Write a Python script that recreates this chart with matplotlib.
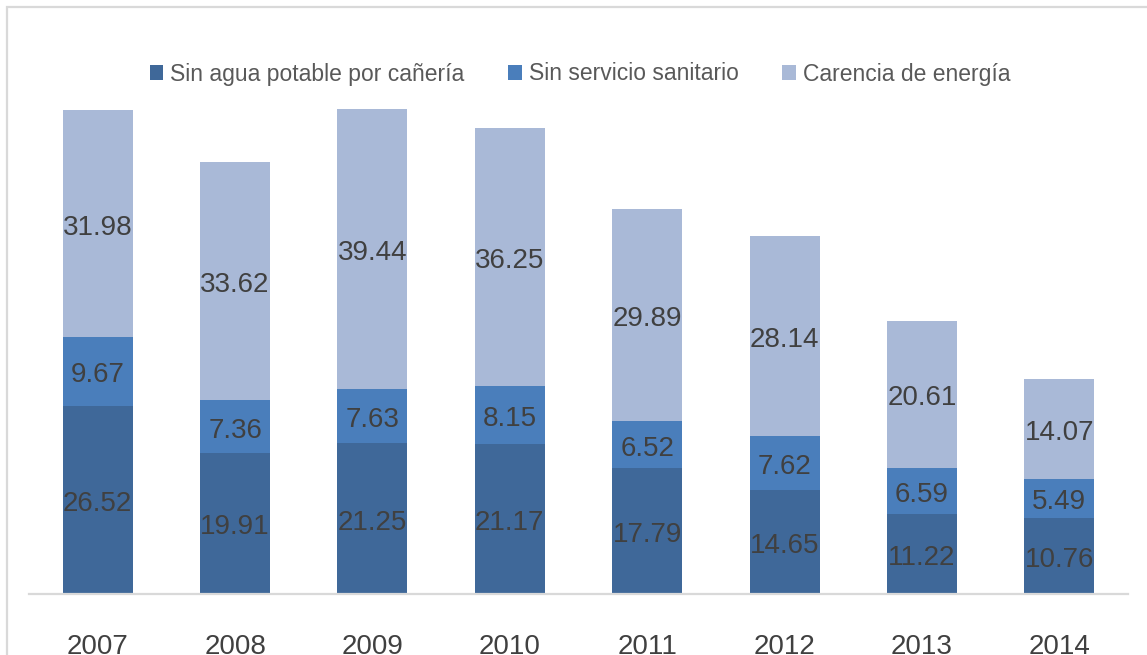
import matplotlib
matplotlib.use("Agg")
import matplotlib.pyplot as plt
from matplotlib.patches import Rectangle
from matplotlib.transforms import ScaledTranslation
import numpy as np

years = ["2007", "2008", "2009", "2010", "2011", "2012", "2013", "2014"]
series_names = ["Sin agua potable por cañería", "Sin servicio sanitario", "Carencia de energía"]
agua = [26.52, 19.91, 21.25, 21.17, 17.79, 14.65, 11.22, 10.76]
sanitario = [9.67, 7.36, 7.63, 8.15, 6.52, 7.62, 6.59, 5.49]
energia = [31.98, 33.62, 39.44, 36.25, 29.89, 28.14, 20.61, 14.07]

colors = ["#3F6899", "#4A7EBB", "#A9B9D7"]
text_color = "#404040"

plt.rcParams['font.family'] = ['Liberation Sans', 'DejaVu Sans']

W, H = 1147, 655
fig = plt.figure(figsize=(W / 100, H / 100), dpi=100)

# outer chart-area border (cropped on right and bottom)
fig.patches.append(Rectangle((7.5 / W, -0.05), 1.2, (H - 6.5) / H + 0.05,
                             transform=fig.transFigure, fill=False,
                             edgecolor="#D9D9D9", linewidth=1.6, zorder=0))

ax_left, ax_right = 29 / W, 1128 / W
ax_bottom = (H - 594) / H
ymax = 70
ax_height = ymax * 7.1 / H
ax = fig.add_axes([ax_left, ax_bottom, ax_right - ax_left, ax_height])

shift = ScaledTranslation(0, -4 / 100, fig.dpi_scale_trans)

x = np.arange(len(years))
width = 0.51
data = [agua, sanitario, energia]
bottom = np.zeros(len(years))
for vals, col, name in zip(data, colors, series_names):
    vals = np.array(vals)
    ax.bar(x, vals, width, bottom=bottom, color=col, label=name, zorder=2)
    for xi, b, v in zip(x, bottom, vals):
        ax.text(xi, b + v / 2, f"{v:.2f}", ha="center", va="center",
                fontsize=20, color=text_color, zorder=3,
                transform=ax.transData + shift)
    bottom = bottom + vals

ax.set_xlim(-0.5, len(years) - 0.5)
ax.set_ylim(0, ymax)
ax.set_xticks(x)
ax.set_xticklabels(years, fontsize=20, color=text_color)
ax.tick_params(axis="x", length=0, pad=29)
ax.set_yticks([])
for s in ["top", "right", "left"]:
    ax.spines[s].set_visible(False)
ax.spines["bottom"].set_color("#D9D9D9")
ax.spines["bottom"].set_linewidth(1.6)
ax.patch.set_visible(False)

leg = fig.legend(loc="center", bbox_to_anchor=(580 / W, (H - 74) / H), ncol=3,
                 frameon=False, fontsize=16.5, handlelength=0.6, handleheight=0.6,
                 handletextpad=0.3, columnspacing=1.9, labelcolor="#595959")

fig.savefig("out.png", dpi=100)
